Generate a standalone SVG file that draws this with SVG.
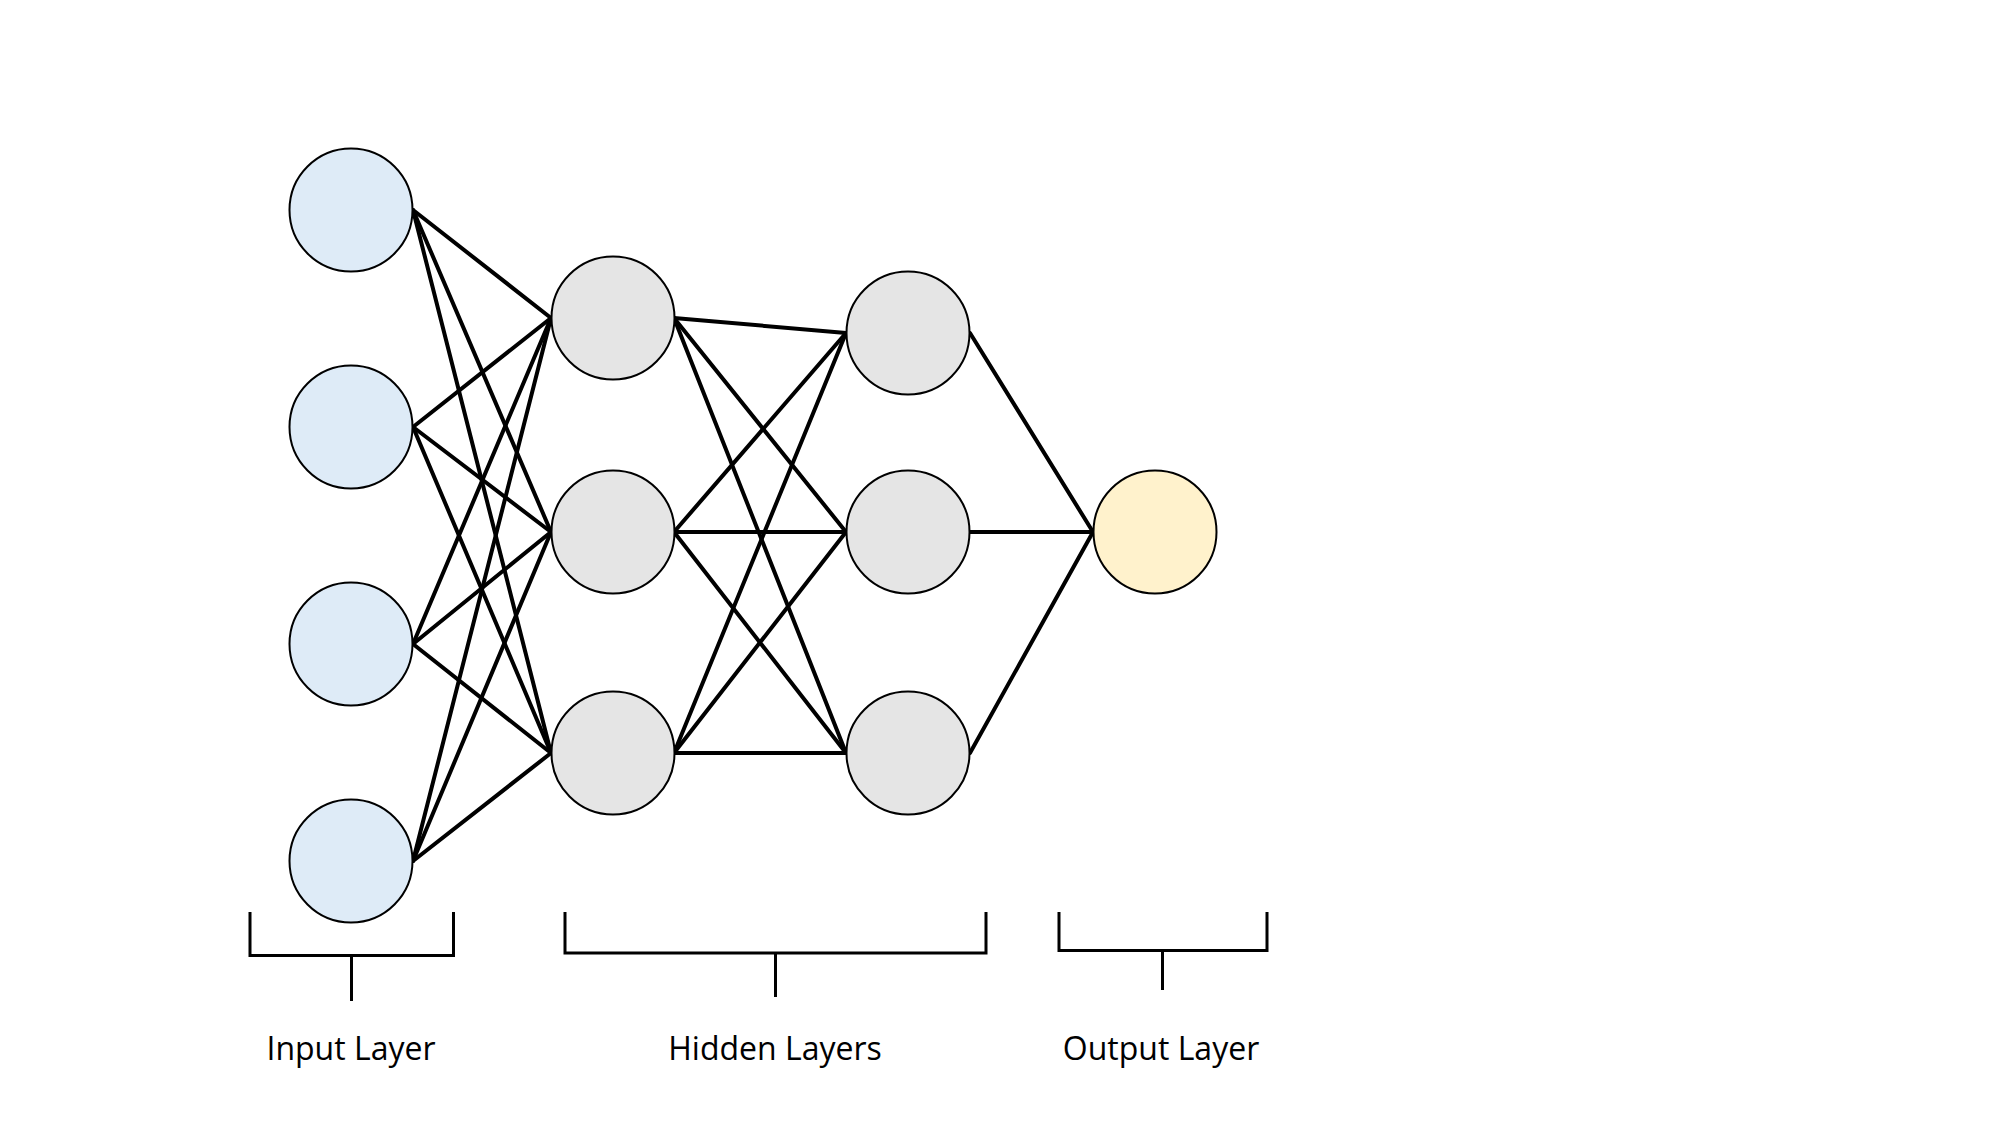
<svg xmlns="http://www.w3.org/2000/svg" width="2000" height="1125" viewBox="0 0 2000 1125">
<style>
.node{stroke:#000;stroke-width:2}
.in{fill:#DEEBF7}
.hid{fill:#E5E5E5}
.out{fill:#FFF2CC}
.edge{stroke:#000;stroke-width:4;fill:none;stroke-linecap:round}
.br{stroke:#000;stroke-width:3;fill:none}
.lbl{font-family:"Open Sans","Liberation Sans",sans-serif;font-size:32px;fill:#000;text-anchor:middle}
</style>
<rect width="2000" height="1125" fill="#fff"/>
<g id="connectors">
<line class="edge" x1="413" y1="210" x2="551" y2="318"/>
<line class="edge" x1="413" y1="210" x2="551" y2="532"/>
<line class="edge" x1="413" y1="210" x2="551" y2="753"/>
<line class="edge" x1="413" y1="427" x2="551" y2="318"/>
<line class="edge" x1="413" y1="427" x2="551" y2="532"/>
<line class="edge" x1="413" y1="427" x2="551" y2="753"/>
<line class="edge" x1="413" y1="644" x2="551" y2="318"/>
<line class="edge" x1="413" y1="644" x2="551" y2="532"/>
<line class="edge" x1="413" y1="644" x2="551" y2="753"/>
<line class="edge" x1="413" y1="861" x2="551" y2="318"/>
<line class="edge" x1="413" y1="861" x2="551" y2="532"/>
<line class="edge" x1="413" y1="861" x2="551" y2="753"/>
<line class="edge" x1="674" y1="318" x2="846" y2="333"/>
<line class="edge" x1="674" y1="318" x2="846" y2="532"/>
<line class="edge" x1="674" y1="318" x2="846" y2="753"/>
<line class="edge" x1="674" y1="532" x2="846" y2="333"/>
<line class="edge" x1="674" y1="532" x2="846" y2="532"/>
<line class="edge" x1="674" y1="532" x2="846" y2="753"/>
<line class="edge" x1="674" y1="753" x2="846" y2="333"/>
<line class="edge" x1="674" y1="753" x2="846" y2="532"/>
<line class="edge" x1="674" y1="753" x2="846" y2="753"/>
<line class="edge" x1="970" y1="333" x2="1093" y2="532"/>
<line class="edge" x1="970" y1="532" x2="1093" y2="532"/>
<line class="edge" x1="970" y1="753" x2="1093" y2="532"/>
</g>
<g id="input1"><circle class="node in" cx="351" cy="210" r="61.5"/></g>
<g id="input2"><circle class="node in" cx="351" cy="427" r="61.5"/></g>
<g id="input3"><circle class="node in" cx="351" cy="644" r="61.5"/></g>
<g id="input4"><circle class="node in" cx="351" cy="861" r="61.5"/></g>
<g id="hidden1a"><circle class="node hid" cx="613" cy="318" r="61.5"/></g>
<g id="hidden1b"><circle class="node hid" cx="613" cy="532" r="61.5"/></g>
<g id="hidden1c"><circle class="node hid" cx="613" cy="753" r="61.5"/></g>
<g id="hidden2a"><circle class="node hid" cx="908" cy="333" r="61.5"/></g>
<g id="hidden2b"><circle class="node hid" cx="908" cy="532" r="61.5"/></g>
<g id="hidden2c"><circle class="node hid" cx="908" cy="753" r="61.5"/></g>
<g id="output"><circle class="node out" cx="1155" cy="532" r="61.5"/></g>
<g id="input-bracket">
<path class="br" d="M250,912 V955.5 H453.5 V912 M351.5,955.5 V1001"/>
<text class="lbl" x="351" y="1060">Input Layer</text>
</g>
<g id="hidden-bracket">
<path class="br" d="M565,912 V953 H986 V912 M775.5,953 V997"/>
<text class="lbl" x="775" y="1060">Hidden Layers</text>
</g>
<g id="output-bracket">
<path class="br" d="M1059,912 V950.5 H1267 V912 M1162.5,950.5 V990"/>
<text class="lbl" x="1161" y="1060">Output Layer</text>
</g>
</svg>
